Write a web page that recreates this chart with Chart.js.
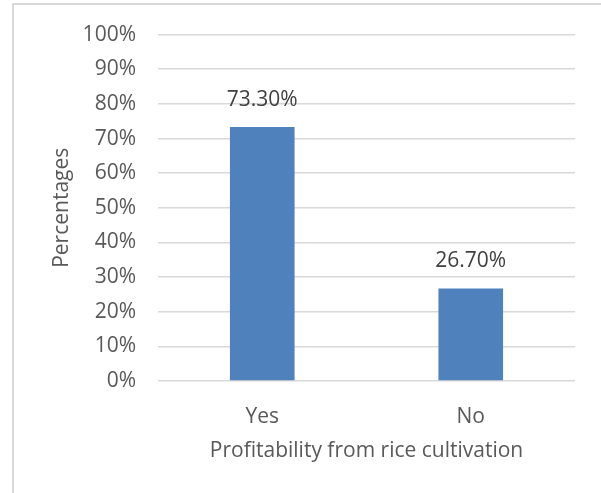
<!DOCTYPE html>
<html>
<head>
<meta charset="utf-8">
<script src="https://cdn.jsdelivr.net/npm/chart.js@4"></script>
<style>
  html, body { margin: 0; padding: 0; background: #fff; }
  #wrap { position: relative; width: 601px; height: 493px; overflow: hidden; }
  #frame { position: absolute; left: 12px; top: 3px; right: -2px; bottom: -2px;
           border-left: 2px solid #d9d9d9; border-top: 2px solid #d9d9d9; }
  canvas { position: absolute; left: 0; top: 0; }
</style>
</head>
<body>
<div id="wrap">
  <div id="frame"></div>
  <canvas id="chart" width="601" height="493"></canvas>
</div>
<script>
const categories = ['Yes', 'No'];
const percentValues = [73.3, 26.7];
const yTicks = [0, 10, 20, 30, 40, 50, 60, 70, 80, 90, 100];

const textColor = '#595959';
const fontFamily = "'Open Sans', sans-serif";
const fontSize = 21;

// draws "73.30%" style labels above each bar
const valueLabels = {
    id: 'valueLabels',
    afterDatasetsDraw(chart) {
        const ctx = chart.ctx;
        const meta = chart.getDatasetMeta(0);
        ctx.save();
        ctx.font = fontSize + 'px ' + fontFamily;
        ctx.fillStyle = '#404040';
        ctx.textAlign = 'center';
        ctx.textBaseline = 'middle';
        meta.data.forEach((bar, i) => {
            ctx.fillText(percentValues[i].toFixed(2) + '%', bar.x, bar.y - 27);
        });
        ctx.restore();
    }
};

new Chart(document.getElementById('chart').getContext('2d'), {
    type: 'bar',
    data: {
        labels: categories,
        datasets: [{
            data: percentValues,
            backgroundColor: '#4f81bd',
            categoryPercentage: 1,
            barPercentage: 0.31
        }]
    },
    options: {
        responsive: false,
        animation: false,
        layout: { padding: { left: 40, right: 26, top: 32, bottom: 20 } },
        plugins: { legend: { display: false }, tooltip: { enabled: false } },
        scales: {
            x: {
                grid: { display: false },
                border: { display: false },
                ticks: { color: textColor, font: { size: fontSize, family: fontFamily }, padding: 15 },
                title: {
                    display: true, text: 'Profitability from rice cultivation',
                    color: textColor, font: { size: fontSize, family: fontFamily },
                    padding: { top: 0, bottom: 9 }
                },
                afterFit(scale) { scale.height = 92; }
            },
            y: {
                min: 0, max: 100,
                afterBuildTicks(scale) { scale.ticks = yTicks.map(v => ({ value: v })); },
                grid: { color: '#d9d9d9', lineWidth: 1.5, drawTicks: false },
                border: { display: false },
                ticks: {
                    color: textColor, font: { size: fontSize, family: fontFamily }, padding: 22,
                    callback: v => v + '%'
                },
                title: {
                    display: true, text: 'Percentages',
                    color: textColor, font: { size: fontSize, family: fontFamily },
                    padding: { top: 9, bottom: 0 }
                },
                afterFit(scale) { scale.width = 118; }
            }
        }
    },
    plugins: [valueLabels]
});
</script>
</body>
</html>
